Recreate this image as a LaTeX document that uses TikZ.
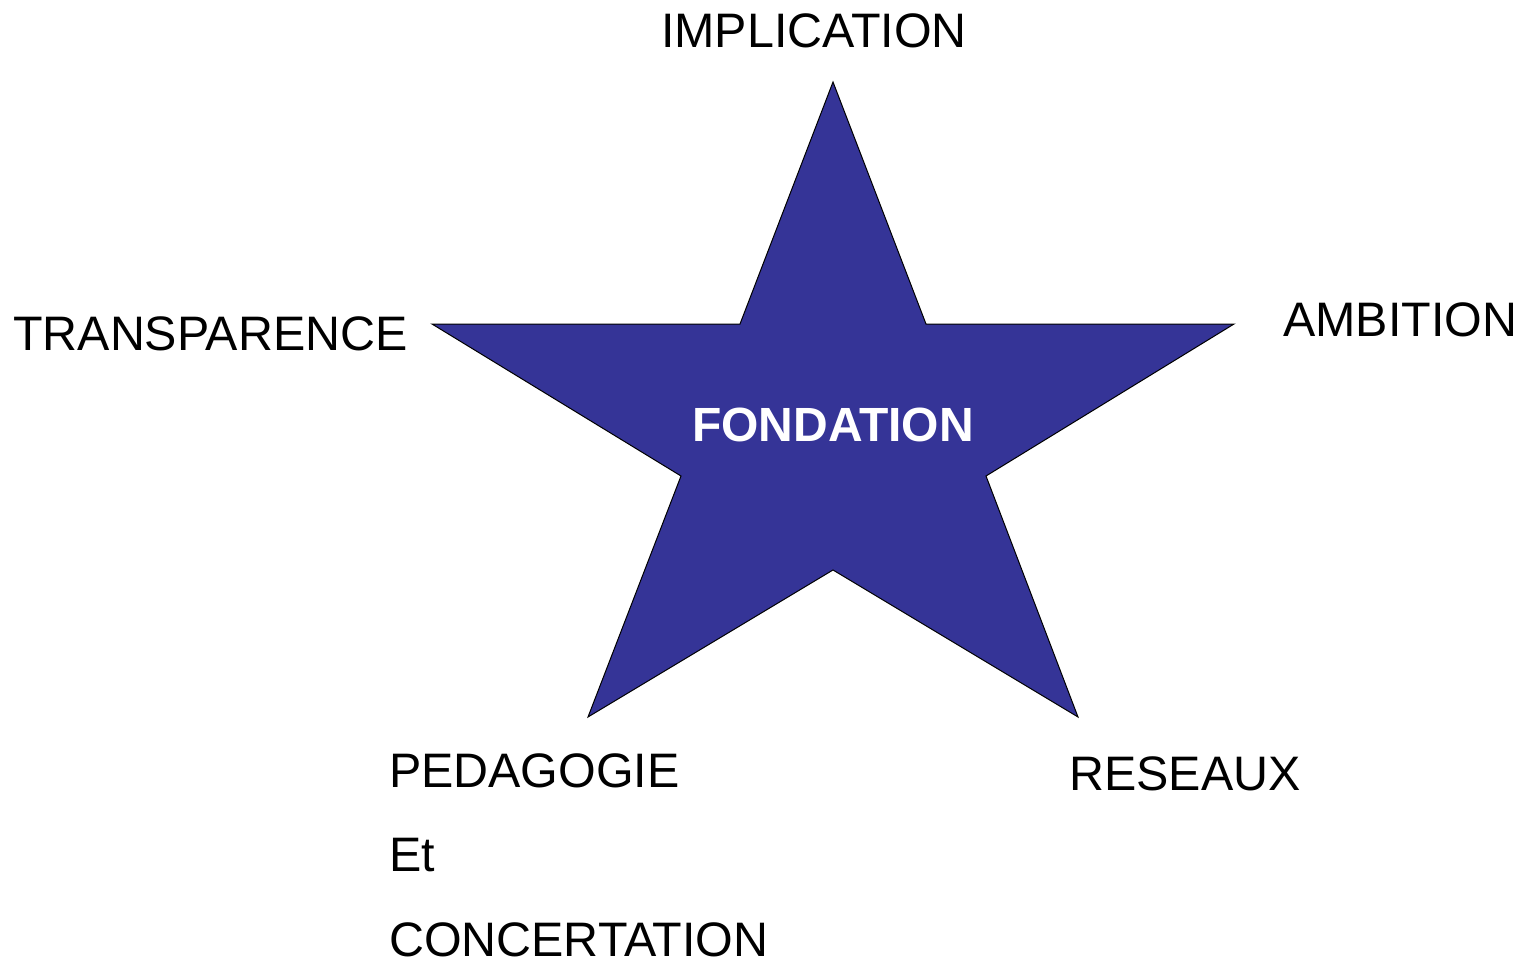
\documentclass[tikz,border=0pt]{standalone}
\usepackage{fontspec}
\setmainfont{Liberation Sans}
\usepackage{xcolor}
\definecolor{starblue}{RGB}{53,52,151}

\begin{document}
\begin{tikzpicture}[x=1pt,y=-1pt]
    \tikzset{word/.style={font=\fontsize{48.4}{84.5}\selectfont, anchor=base west, inner sep=0pt, align=left}}
    \useasboundingbox (0,0) rectangle (1518,966);
    % etoile
    \filldraw[fill=starblue, draw=black, line width=1pt] (833,82) -- (926,324) -- (1234,324) -- (986,476)
        -- (1078,717) -- (833,570) -- (588,717) -- (681,476) -- (432,324) -- (740,324) -- cycle;
    % centre
    \node[word, text=white, font=\fontsize{48}{57}\selectfont\bfseries] (fondation) at (692,441) {FONDATION};
    % les cinq pointes
    \node[word] (implication) at (661,48) {IMPLICATION};
    \node[word] (ambition) at (1283,336) {AMBITION};
    \node[word] (transparence) at (13,350) {TRANSPARENCE};
    \node[word] (reseaux) at (1069,790) {RESEAUX};
    \node[word, text depth=0pt] (pedagogie) at (389,956) {PEDAGOGIE\\Et\\CONCERTATION};
\end{tikzpicture}
\end{document}
